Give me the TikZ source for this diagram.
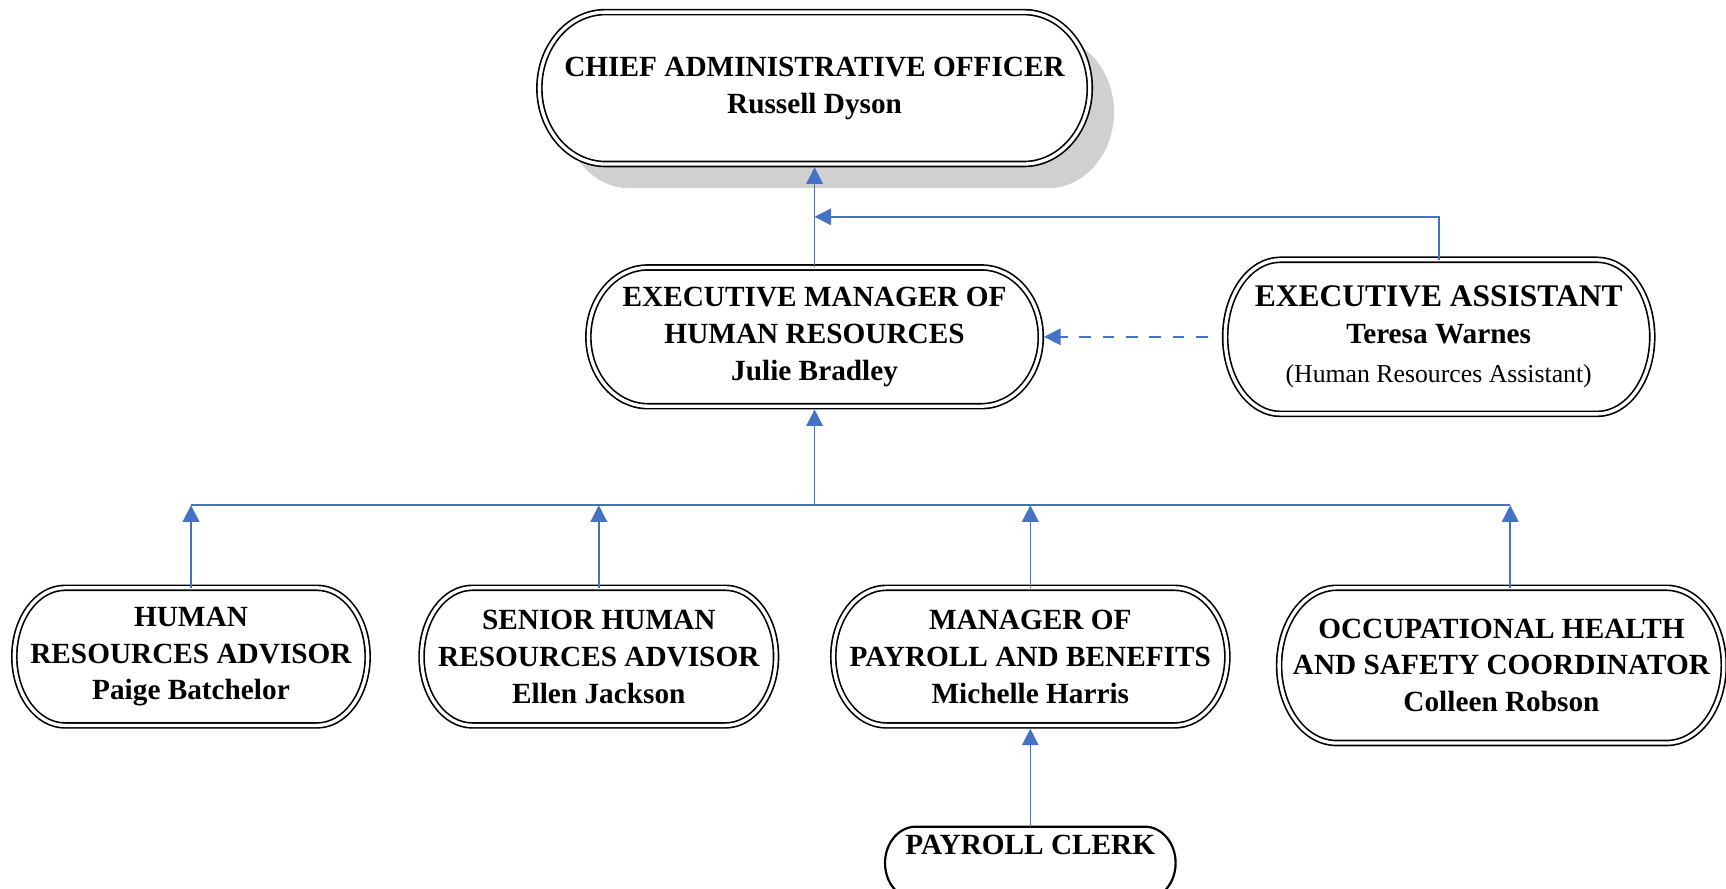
\documentclass[tikz,border=0pt]{standalone}
\usepackage{fontspec}
\setmainfont{Liberation Serif}
\usetikzlibrary{arrows.meta,backgrounds,calc}
\definecolor{linkblue}{HTML}{4472C4}
\definecolor{shadowgray}{HTML}{D0D0D0}
\newcommand\pillpath[3][]{%
  \path[#1] let \p1=(#2.north east), \p2=(#2.south west) in
    (\x2+#3,\y1) -- (\x1-#3,\y1)
    arc[start angle=90,end angle=-90,x radius=#3,y radius={(\y1-\y2)/2}]
    -- (\x2+#3,\y2)
    arc[start angle=270,end angle=90,x radius=#3,y radius={(\y1-\y2)/2}]
    -- cycle;}
\tikzset{
  box/.style={inner sep=0pt, outer sep=0pt, align=center,
    font=\fontsize{13.3}{16.75}\selectfont\bfseries},
  pillline/.style={draw=black, line width=0.75pt, double=white, double distance=1.5pt},
  conn/.style={draw=linkblue, line width=0.75pt,
    -{Triangle[length=7.5pt,width=7.5pt]}, shorten >=1.5pt},
  busline/.style={draw=linkblue, line width=0.9pt},
}
\begin{document}
\begin{tikzpicture}[x=0.5pt,y=-0.5pt]
\useasboundingbox (0,0) rectangle (1568,807);
% nodes
\node[box, minimum width=250pt, minimum height=69pt] (CAO) at (740,80)
  {CHIEF ADMINISTRATIVE OFFICER\\Russell Dyson};
\node[box, minimum width=205.5pt, minimum height=63pt] (EM) at (740,306)
  {EXECUTIVE MANAGER OF\\HUMAN RESOURCES\\Julie Bradley};
\node[box, minimum width=194pt, minimum height=70pt] (EA) at (1307,306)
  {\fontsize{14.3}{17.5}\selectfont EXECUTIVE ASSISTANT\\Teresa Warnes\\[1pt]\fontsize{11.7}{17}\selectfont\mdseries (Human Resources Assistant)};
\node[box, minimum width=160.5pt, minimum height=62.5pt] (HRA) at (173.5,596.5)
  {HUMAN\\RESOURCES ADVISOR\\Paige Batchelor};
\node[box, minimum width=161pt, minimum height=62.5pt] (SHRA) at (544,596.5)
  {SENIOR HUMAN\\RESOURCES ADVISOR\\Ellen Jackson};
\node[box, minimum width=179pt, minimum height=62.5pt] (MPB) at (936,596.5)
  {MANAGER OF\\PAYROLL AND BENEFITS\\Michelle Harris};
\node[box, minimum width=202pt, minimum height=70.5pt] (OHS) at (1364,604.5)
  {OCCUPATIONAL HEALTH\\AND SAFETY COORDINATOR\\Colleen Robson};
\node[box, minimum width=132pt, minimum height=33pt] (PC) at (936,784) {};
\node[box] (PCtext) at (936,768) {PAYROLL CLERK};
% shapes behind
\begin{pgfonlayer}{background}
\fill[white] (0,0) rectangle (1568,807);
\begin{scope}[transform canvas={shift={(11pt,-11pt)}}]
\pillpath[fill=shadowgray]{CAO}{30pt}
\end{scope}
\pillpath[pillline, fill=white]{CAO}{30pt}
\pillpath[pillline, fill=white]{EM}{27pt}
\pillpath[pillline, fill=white]{EA}{25pt}
\pillpath[pillline, fill=white]{HRA}{23pt}
\pillpath[pillline, fill=white]{SHRA}{23pt}
\pillpath[pillline, fill=white]{MPB}{24pt}
\pillpath[pillline, fill=white]{OHS}{26pt}
\pillpath[draw=black, line width=1pt, fill=white]{PC}{14pt}
\end{pgfonlayer}
% connectors
\coordinate (j1) at (740,197);
\coordinate (bus) at (740,459);
\draw[conn] (EM.north) -- (CAO.south);
\draw[conn, shorten >=0pt] (EA.north) |- (j1);
\draw[conn, dash pattern=on 5.3pt off 5.3pt, shorten <=8pt] (EA.west) -- (EM.east);
\draw[busline] (HRA.north |- bus) -- ([xshift=4pt]OHS.north |- bus);
\draw[conn] (bus) -- (EM.south);
\draw[conn, shorten >=0pt] (HRA.north) -- (HRA.north |- bus);
\draw[conn, shorten >=0pt] (SHRA.north) -- (SHRA.north |- bus);
\draw[conn, shorten >=0pt] (MPB.north) -- (MPB.north |- bus);
\draw[conn, shorten >=0pt] ([xshift=4pt]OHS.north) -- ([xshift=4pt]OHS.north |- bus);
\draw[conn] (PC.north) -- (MPB.south);
\end{tikzpicture}
\end{document}
